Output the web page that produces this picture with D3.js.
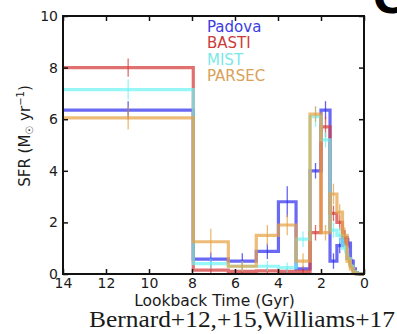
<!DOCTYPE html>
<html>
<head>
<meta charset="utf-8">
<script src="https://cdn.jsdelivr.net/npm/d3@7"></script>
<style>
  html, body { margin: 0; padding: 0; background: #fff; }
  svg { display: block; }
</style>
</head>
<body>
<svg id="chart" width="397" height="334"></svg>
<script>
// Age bin edges (Gyr lookback), oldest first
const binEdges = [14, 7.94, 6.31, 5.01, 3.98, 3.16, 2.51, 2.0, 1.58, 1.26, 1.0, 0.79, 0.63, 0.5, 0.4, 0.32, 0];

// SFR per bin (Msun / yr) for each isochrone set
const padova = [6.35, 0.58, 0.5, 0.88, 2.8, 0.2, 4.0, 6.35, 0.5, 1.1, 1.4, 1.2, 0.5, 0.2, 0.05, 0];
const basti  = [8.0, 0.15, 0.1, 0.12, 0.1, 0.1, 1.6, 5.7, 2.35, 2.0, 1.4, 0.6, 0.3, 0.1, 0.05, 0];
const mist   = [7.15, 0.4, 0.3, 0.3, 0.25, 1.35, 6.1, 5.2, 1.7, 1.5, 1.0, 0.6, 0.3, 0.1, 0.05, 0];
const parsec = [6.05, 1.25, 0.3, 1.5, 1.9, 0.5, 6.2, 1.6, 3.1, 2.4, 1.5, 0.5, 0.2, 0.05, 0, 0];

// Uncertainties per bin
const padovaErr = [0.35, 0.25, 0.3, 0.3, 0.6, 0.1, 0.3, 0.35, 0.3, 0.3, 0.3, 0.2, 0.1, 0, 0, 0];
const bastiErr  = [0.35, 0.2, 0.1, 0.1, 0.1, 0.1, 0.3, 0.4, 0.3, 0.3, 0.3, 0.2, 0.1, 0, 0, 0];
const mistErr   = [0.4, 0.2, 0.2, 0.2, 0.2, 0.3, 0.4, 0.3, 0.3, 0.3, 0.2, 0.2, 0.1, 0, 0, 0];
const parsecErr = [0.45, 0.5, 0.2, 0.4, 0.4, 0.3, 0.3, 0.3, 0.4, 0.3, 0.3, 0.2, 0.1, 0, 0, 0];

const seriesNames = ["Padova", "BASTI", "MIST", "PARSEC"];
const xTicks = [14, 12, 10, 8, 6, 4, 2, 0];
const yTicks = [0, 2, 4, 6, 8, 10];

const series = [
  { name: seriesNames[0], values: padova, err: padovaErr, color: "#2f2fee", text: "#3d3ddf" },
  { name: seriesNames[1], values: basti,  err: bastiErr,  color: "#d63a3a", text: "#cc3b3b" },
  { name: seriesNames[2], values: mist,   err: mistErr,   color: "#6ff3f3", text: "#7ae8e8" },
  { name: seriesNames[3], values: parsec, err: parsecErr, color: "#e6a244", text: "#d9a158" }
];

const svg = d3.select("#chart");
const plotL = 63, plotR = 364, plotT = 16, plotB = 274;

const x = d3.scaleLinear().domain([14, 0]).range([plotL, plotR]);
const y = d3.scaleLinear().domain([0, 10]).range([plotB, plotT]);

const stepLine = d3.line()
  .x(d => x(d[0]))
  .y(d => y(d[1]))
  .curve(d3.curveStepAfter);

const plot = svg.append("g");

series.forEach(s => {
  const pts = s.values.map((v, i) => [binEdges[i], v]);
  pts.push([binEdges[binEdges.length - 1], s.values[s.values.length - 1]]);
  plot.append("path")
    .attr("d", stepLine(pts))
    .attr("fill", "none")
    .attr("stroke", s.color)
    .attr("stroke-width", 3.2)
    .attr("stroke-opacity", 0.72)
    .attr("stroke-linejoin", "miter");

  s.values.forEach((v, i) => {
    const e = s.err[i];
    if (!e) return;
    const c = (binEdges[i] + binEdges[i + 1]) / 2;
    plot.append("line")
      .attr("x1", x(c)).attr("x2", x(c))
      .attr("y1", y(Math.max(0, v - e))).attr("y2", y(v + e))
      .attr("stroke", s.color)
      .attr("stroke-width", 1.3)
      .attr("stroke-opacity", 0.75);
  });
});

// Frame with inward ticks on all four sides
const axBottom = d3.axisBottom(x).tickValues(xTicks).tickSize(-5).tickPadding(4).tickFormat(d3.format("d"));
const axTop = d3.axisTop(x).tickValues(xTicks).tickSize(-5).tickFormat("");
const axLeft = d3.axisLeft(y).tickValues(yTicks).tickSize(-5).tickPadding(5).tickFormat(d3.format("d"));
const axRight = d3.axisRight(y).tickValues(yTicks).tickSize(-5).tickFormat("");

function styleAxis(g) {
  g.select(".domain").remove();
  g.selectAll(".tick line").attr("stroke", "#111").attr("stroke-width", 1.5);
  g.selectAll(".tick text").attr("fill", "#1a1a1a").attr("font-family", "DejaVu Sans, sans-serif").attr("font-size", 14);
}

svg.append("g").attr("transform", `translate(0,${plotB})`).call(axBottom).call(styleAxis);
svg.append("g").attr("transform", `translate(0,${plotT})`).call(axTop).call(styleAxis);
svg.append("g").attr("transform", `translate(${plotL},0)`).call(axLeft).call(styleAxis);
svg.append("g").attr("transform", `translate(${plotR},0)`).call(axRight).call(styleAxis);

svg.append("rect")
  .attr("x", plotL).attr("y", plotT)
  .attr("width", plotR - plotL).attr("height", plotB - plotT)
  .attr("fill", "none").attr("stroke", "#111").attr("stroke-width", 2);

// Legend as coloured labels
const legend = svg.append("g").attr("font-family", "DejaVu Sans, sans-serif").attr("font-size", 15);
series.forEach((s, i) => {
  legend.append("text")
    .attr("x", 207).attr("y", 32 + i * 16.3)
    .attr("fill", s.text)
    .text(s.name);
});

// Axis titles
svg.append("text")
  .attr("x", (plotL + plotR) / 2 + 1).attr("y", 306)
  .attr("text-anchor", "middle")
  .attr("font-family", "DejaVu Sans, sans-serif").attr("font-size", 15.5)
  .attr("fill", "#1a1a1a")
  .text("Lookback Time (Gyr)");

const yl = svg.append("text")
  .attr("transform", "translate(30,136) rotate(-90)")
  .attr("text-anchor", "middle")
  .attr("font-family", "DejaVu Sans, sans-serif").attr("font-size", 15)
  .attr("fill", "#1a1a1a");
yl.append("tspan").text("SFR (M");
yl.append("tspan").attr("font-size", 10).attr("dy", 3).text("\u2609");
yl.append("tspan").attr("dy", -3).text(" yr");
yl.append("tspan").attr("font-size", 10).attr("dy", -6).text("\u22121");
yl.append("tspan").attr("dy", 6).text(")");

// Source credit
svg.append("text")
  .attr("x", 89).attr("y", 327)
  .attr("font-family", "Liberation Serif, serif").attr("font-size", 23)
  .attr("textLength", 306).attr("lengthAdjust", "spacingAndGlyphs")
  .attr("fill", "#1a1a1a")
  .text("Bernard+12,+15,Williams+17");

// Panel letter (partly outside the frame)
svg.append("text")
  .attr("x", 373).attr("y", 13)
  .attr("font-family", "DejaVu Sans, sans-serif").attr("font-size", 42)
  .attr("font-weight", "bold")
  .attr("fill", "#000")
  .text("C");
</script>
</body>
</html>
